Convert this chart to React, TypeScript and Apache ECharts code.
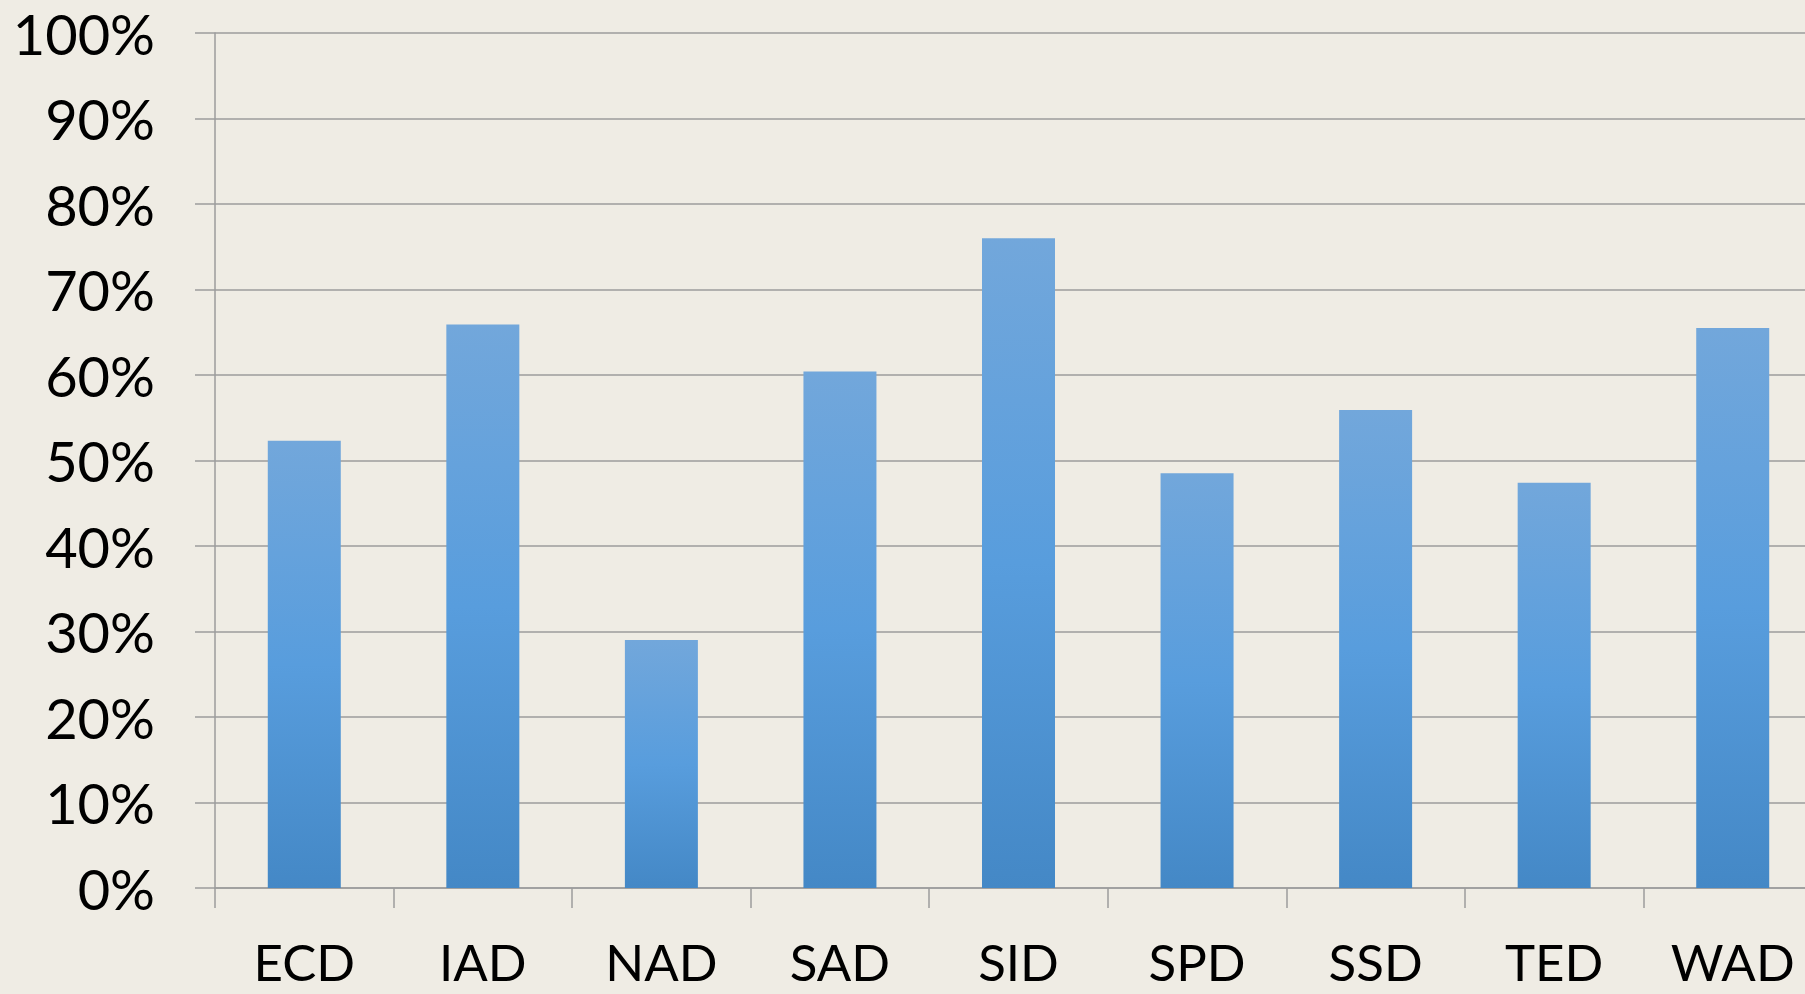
import React, { useEffect, useRef } from "react";
import * as echarts from "echarts";

const categories = ["ECD", "IAD", "NAD", "SAD", "SID", "SPD", "SSD", "TED", "WAD"];
const values = [52.3, 65.9, 29.0, 60.4, 76.0, 48.5, 55.9, 47.4, 65.5];
const yTicks = { min: 0, max: 100, interval: 10 };

export default function App() {
  const ref = useRef<HTMLDivElement>(null);
  useEffect(() => {
    if (!ref.current) return;
    const chart = echarts.init(ref.current, null, { renderer: "svg" });
    const gridColor = "#9c9c9c";
    chart.setOption({
      animation: false,
      backgroundColor: "#EFECE4",
      grid: { left: 215, top: 33, bottom: 106, right: -17, containLabel: false, outerBoundsMode: "none" },
      xAxis: {
        type: "category",
        data: categories,
        boundaryGap: true,
        axisLine: { show: true, lineStyle: { color: gridColor, width: 1.5 } },
        axisTick: { show: true, length: 20, inside: false, lineStyle: { color: gridColor, width: 1.5 } },
        axisLabel: {
          margin: 50,
          color: "#000",
          fontFamily: "Lato",
          fontSize: 51,
          lineHeight: 46,
        },
        splitLine: { show: false },
      },
      yAxis: {
        type: "value",
        min: yTicks.min,
        max: yTicks.max,
        interval: yTicks.interval,
        axisLine: { show: true, lineStyle: { color: gridColor, width: 1.5 } },
        axisTick: { show: true, length: 20, lineStyle: { color: gridColor, width: 1.5 } },
        axisLabel: {
          margin: 60,
          color: "#000",
          fontFamily: "Lato",
          fontSize: 56,
          formatter: (v: number) => `${v}%`,
        },
        splitLine: { show: true, lineStyle: { color: gridColor, width: 1.5 } },
      },
      series: [
        {
          type: "bar",
          data: values,
          barWidth: 73,
          itemStyle: {
            color: new echarts.graphic.LinearGradient(0, 0, 0, 1, [
              { offset: 0, color: "#72A7DB" },
              { offset: 0.5, color: "#589DDD" },
              { offset: 1, color: "#4488C6" },
            ]),
          },
        },
      ],
    });
    return () => chart.dispose();
  }, []);
  return (
    <div
      ref={ref}
      style={{ position: "fixed", left: 0, top: 0, width: 1805, height: 994 }}
    />
  );
}
